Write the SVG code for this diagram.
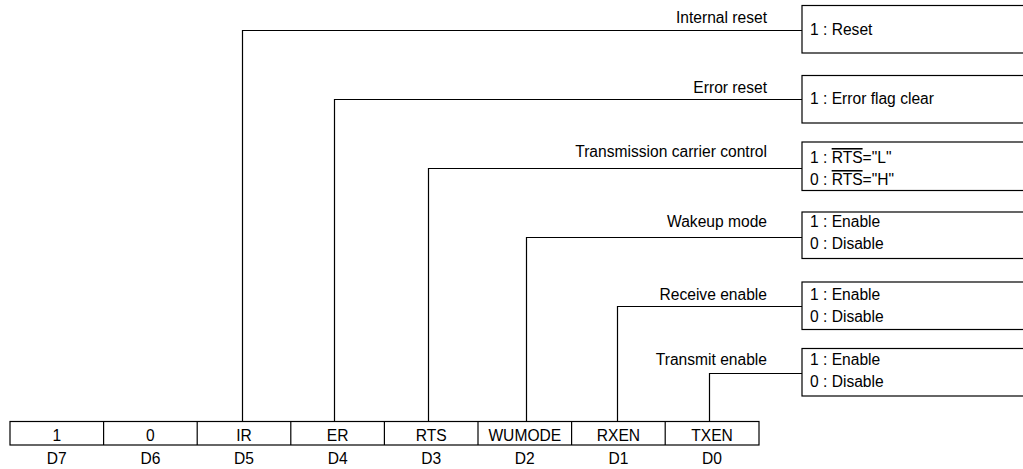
<svg xmlns="http://www.w3.org/2000/svg" width="1023" height="469" viewBox="0 0 1023 469">
<style>
text{font-family:"Liberation Sans",Arial,sans-serif;font-size:15.6px;fill:#000}
.c{text-anchor:middle}
.e{text-anchor:end}
.ln{fill:none;stroke:#000;stroke-width:1.2}
.box{fill:#fff;stroke:#000;stroke-width:1.2}
.ov{text-decoration:overline}
</style>
<rect width="1023" height="469" fill="#fff"/>
<g id="connectors">
<polyline class="ln" points="242.5,421 242.5,30.5 802,30.5"/>
<polyline class="ln" points="334.5,421 334.5,99.5 802,99.5"/>
<polyline class="ln" points="428.5,421 428.5,168.5 802,168.5"/>
<polyline class="ln" points="526.5,421 526.5,237.5 802,237.5"/>
<polyline class="ln" points="617.5,421 617.5,306.5 802,306.5"/>
<polyline class="ln" points="709.5,421 709.5,373.5 802,373.5"/>
</g>
<g id="labels">
<text class="e" x="767" y="22.5">Internal reset</text>
<text class="e" x="767" y="93">Error reset</text>
<text class="e" x="767" y="157">Transmission carrier control</text>
<text class="e" x="767" y="227">Wakeup mode</text>
<text class="e" x="767" y="300">Receive enable</text>
<text class="e" x="767" y="365">Transmit enable</text>
</g>
<g id="box-ir">
<rect class="box" x="802" y="5.5" width="230" height="47.5"/>
<text x="810" y="35">1 : Reset</text>
</g>
<g id="box-er">
<rect class="box" x="802" y="75.5" width="230" height="47.5"/>
<text x="810" y="104">1 : Error flag clear</text>
</g>
<g id="box-rts">
<rect class="box" x="802" y="142" width="230" height="48.5"/>
<text x="810" y="163">1 : <tspan class="ov">RTS</tspan>="L"</text>
<text x="810" y="185">0 : <tspan class="ov">RTS</tspan>="H"</text>
</g>
<g id="box-wumode">
<rect class="box" x="802" y="212" width="230" height="46.5"/>
<text x="810" y="227">1 : Enable</text>
<text x="810" y="249">0 : Disable</text>
</g>
<g id="box-rxen">
<rect class="box" x="802" y="282" width="230" height="47.5"/>
<text x="810" y="299.5">1 : Enable</text>
<text x="810" y="321.5">0 : Disable</text>
</g>
<g id="box-txen">
<rect class="box" x="802" y="348.5" width="230" height="47.5"/>
<text x="810" y="364.5">1 : Enable</text>
<text x="810" y="386.5">0 : Disable</text>
</g>
<g id="register">
<rect class="box" x="10" y="421.5" width="749" height="23.5"/>
<line class="ln" x1="103.6" y1="421.5" x2="103.6" y2="445"/>
<line class="ln" x1="197.2" y1="421.5" x2="197.2" y2="445"/>
<line class="ln" x1="290.8" y1="421.5" x2="290.8" y2="445"/>
<line class="ln" x1="384.4" y1="421.5" x2="384.4" y2="445"/>
<line class="ln" x1="478" y1="421.5" x2="478" y2="445"/>
<line class="ln" x1="571.6" y1="421.5" x2="571.6" y2="445"/>
<line class="ln" x1="665.2" y1="421.5" x2="665.2" y2="445"/>
<text class="c" x="56.8" y="440.5">1</text>
<text class="c" x="150.4" y="440.5">0</text>
<text class="c" x="244" y="440.5">IR</text>
<text class="c" x="337.6" y="440.5">ER</text>
<text class="c" x="431.2" y="440.5">RTS</text>
<text class="c" x="524.8" y="440.5">WUMODE</text>
<text class="c" x="618.4" y="440.5">RXEN</text>
<text class="c" x="712" y="440.5">TXEN</text>
<text class="c" x="56.8" y="464">D7</text>
<text class="c" x="150.4" y="464">D6</text>
<text class="c" x="244" y="464">D5</text>
<text class="c" x="337.6" y="464">D4</text>
<text class="c" x="431.2" y="464">D3</text>
<text class="c" x="524.8" y="464">D2</text>
<text class="c" x="618.4" y="464">D1</text>
<text class="c" x="712" y="464">D0</text>
</g>
</svg>
